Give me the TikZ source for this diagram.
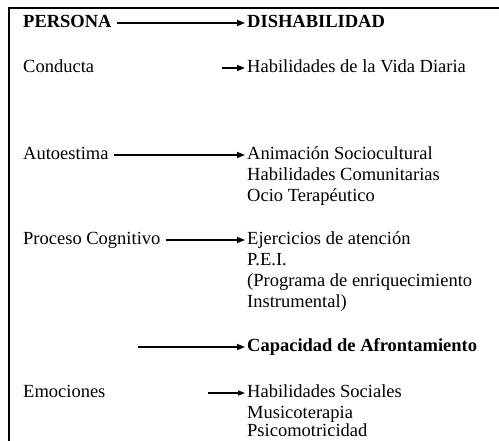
\documentclass[tikz,border=0pt]{standalone}
\usepackage{fontspec}
\setmainfont{Liberation Serif}
\usetikzlibrary{arrows.meta}
\tikzset{
  txt/.style={anchor=base west, inner xsep=2pt, inner ysep=0pt, font=\fontsize{18.5}{21}\selectfont},
  btxt/.style={txt, font=\fontsize{18.5}{21}\selectfont\bfseries},
  arr/.style={line width=1.6pt, -{Triangle[length=8pt,width=6pt]}},
  tarr/.style={line width=1.1pt, -{Triangle[length=7pt,width=5pt]}},
  frame/.style={line width=2.6pt}
}
\begin{document}
\begin{tikzpicture}[x=1pt,y=-1pt]
\useasboundingbox (0,0) rectangle (499,441);
\clip (0,0) rectangle (499,441);
% frame
\coordinate (ftl) at (9,8);
\coordinate (ftr) at (499,8);
\coordinate (fbl) at (9,441);
\draw[frame] (ftr) -- (ftl) -- (fbl);
% left column
\node[btxt] (persona) at (21,28) {PERSONA};
\node[txt] (conducta) at (21,73) {Conducta};
\node[txt] (auto) at (21,160) {Autoestima};
\node[txt] (proc) at (21,245) {Proceso Cognitivo};
\node[txt] (emo) at (21,398) {Emociones};
% right column
\node[btxt] (dis) at (245,28) {DISHABILIDAD};
\node[txt] (hvd) at (245,73) {Habilidades de la Vida Diaria};
\node[txt] (anim) at (245,160) {Animación Sociocultural};
\node[txt] (hcom) at (245,181) {Habilidades Comunitarias};
\node[txt] (ocio) at (245,202) {Ocio Terapéutico};
\node[txt] (ejer) at (245,245) {Ejercicios de atención};
\node[txt] (pei) at (245,266) {P.E.I.};
\node[txt] (prog) at (245,287) {(Programa de enriquecimiento};
\node[txt] (inst) at (245,308) {Instrumental)};
\node[btxt] (cap) at (245,352) {Capacidad de Afrontamiento};
\node[txt] (hsoc) at (245,398) {Habilidades Sociales};
\node[txt] (musi) at (245,418) {Musicoterapia};
\node[txt] (psic) at (245,437) {Psicomotricidad};
% free arrow starts
\coordinate (cs) at (222,68);
\coordinate (caps) at (138,347);
\coordinate (es) at (208,393);
% arrows
\draw[arr, shorten <=3pt] ([yshift=5pt]persona.base east) -- ([yshift=5pt]dis.base west);
\draw[arr] (cs) -- ([yshift=5pt]hvd.base west);
\draw[arr, shorten <=3pt] ([yshift=5pt]auto.base east) -- ([yshift=5pt]anim.base west);
\draw[arr, shorten <=3pt] ([yshift=5pt]proc.base east) -- ([yshift=5pt]ejer.base west);
\draw[arr] (caps) -- ([yshift=5pt]cap.base west);
\draw[tarr] (es) -- ([yshift=5pt]hsoc.base west);
\end{tikzpicture}
\end{document}
